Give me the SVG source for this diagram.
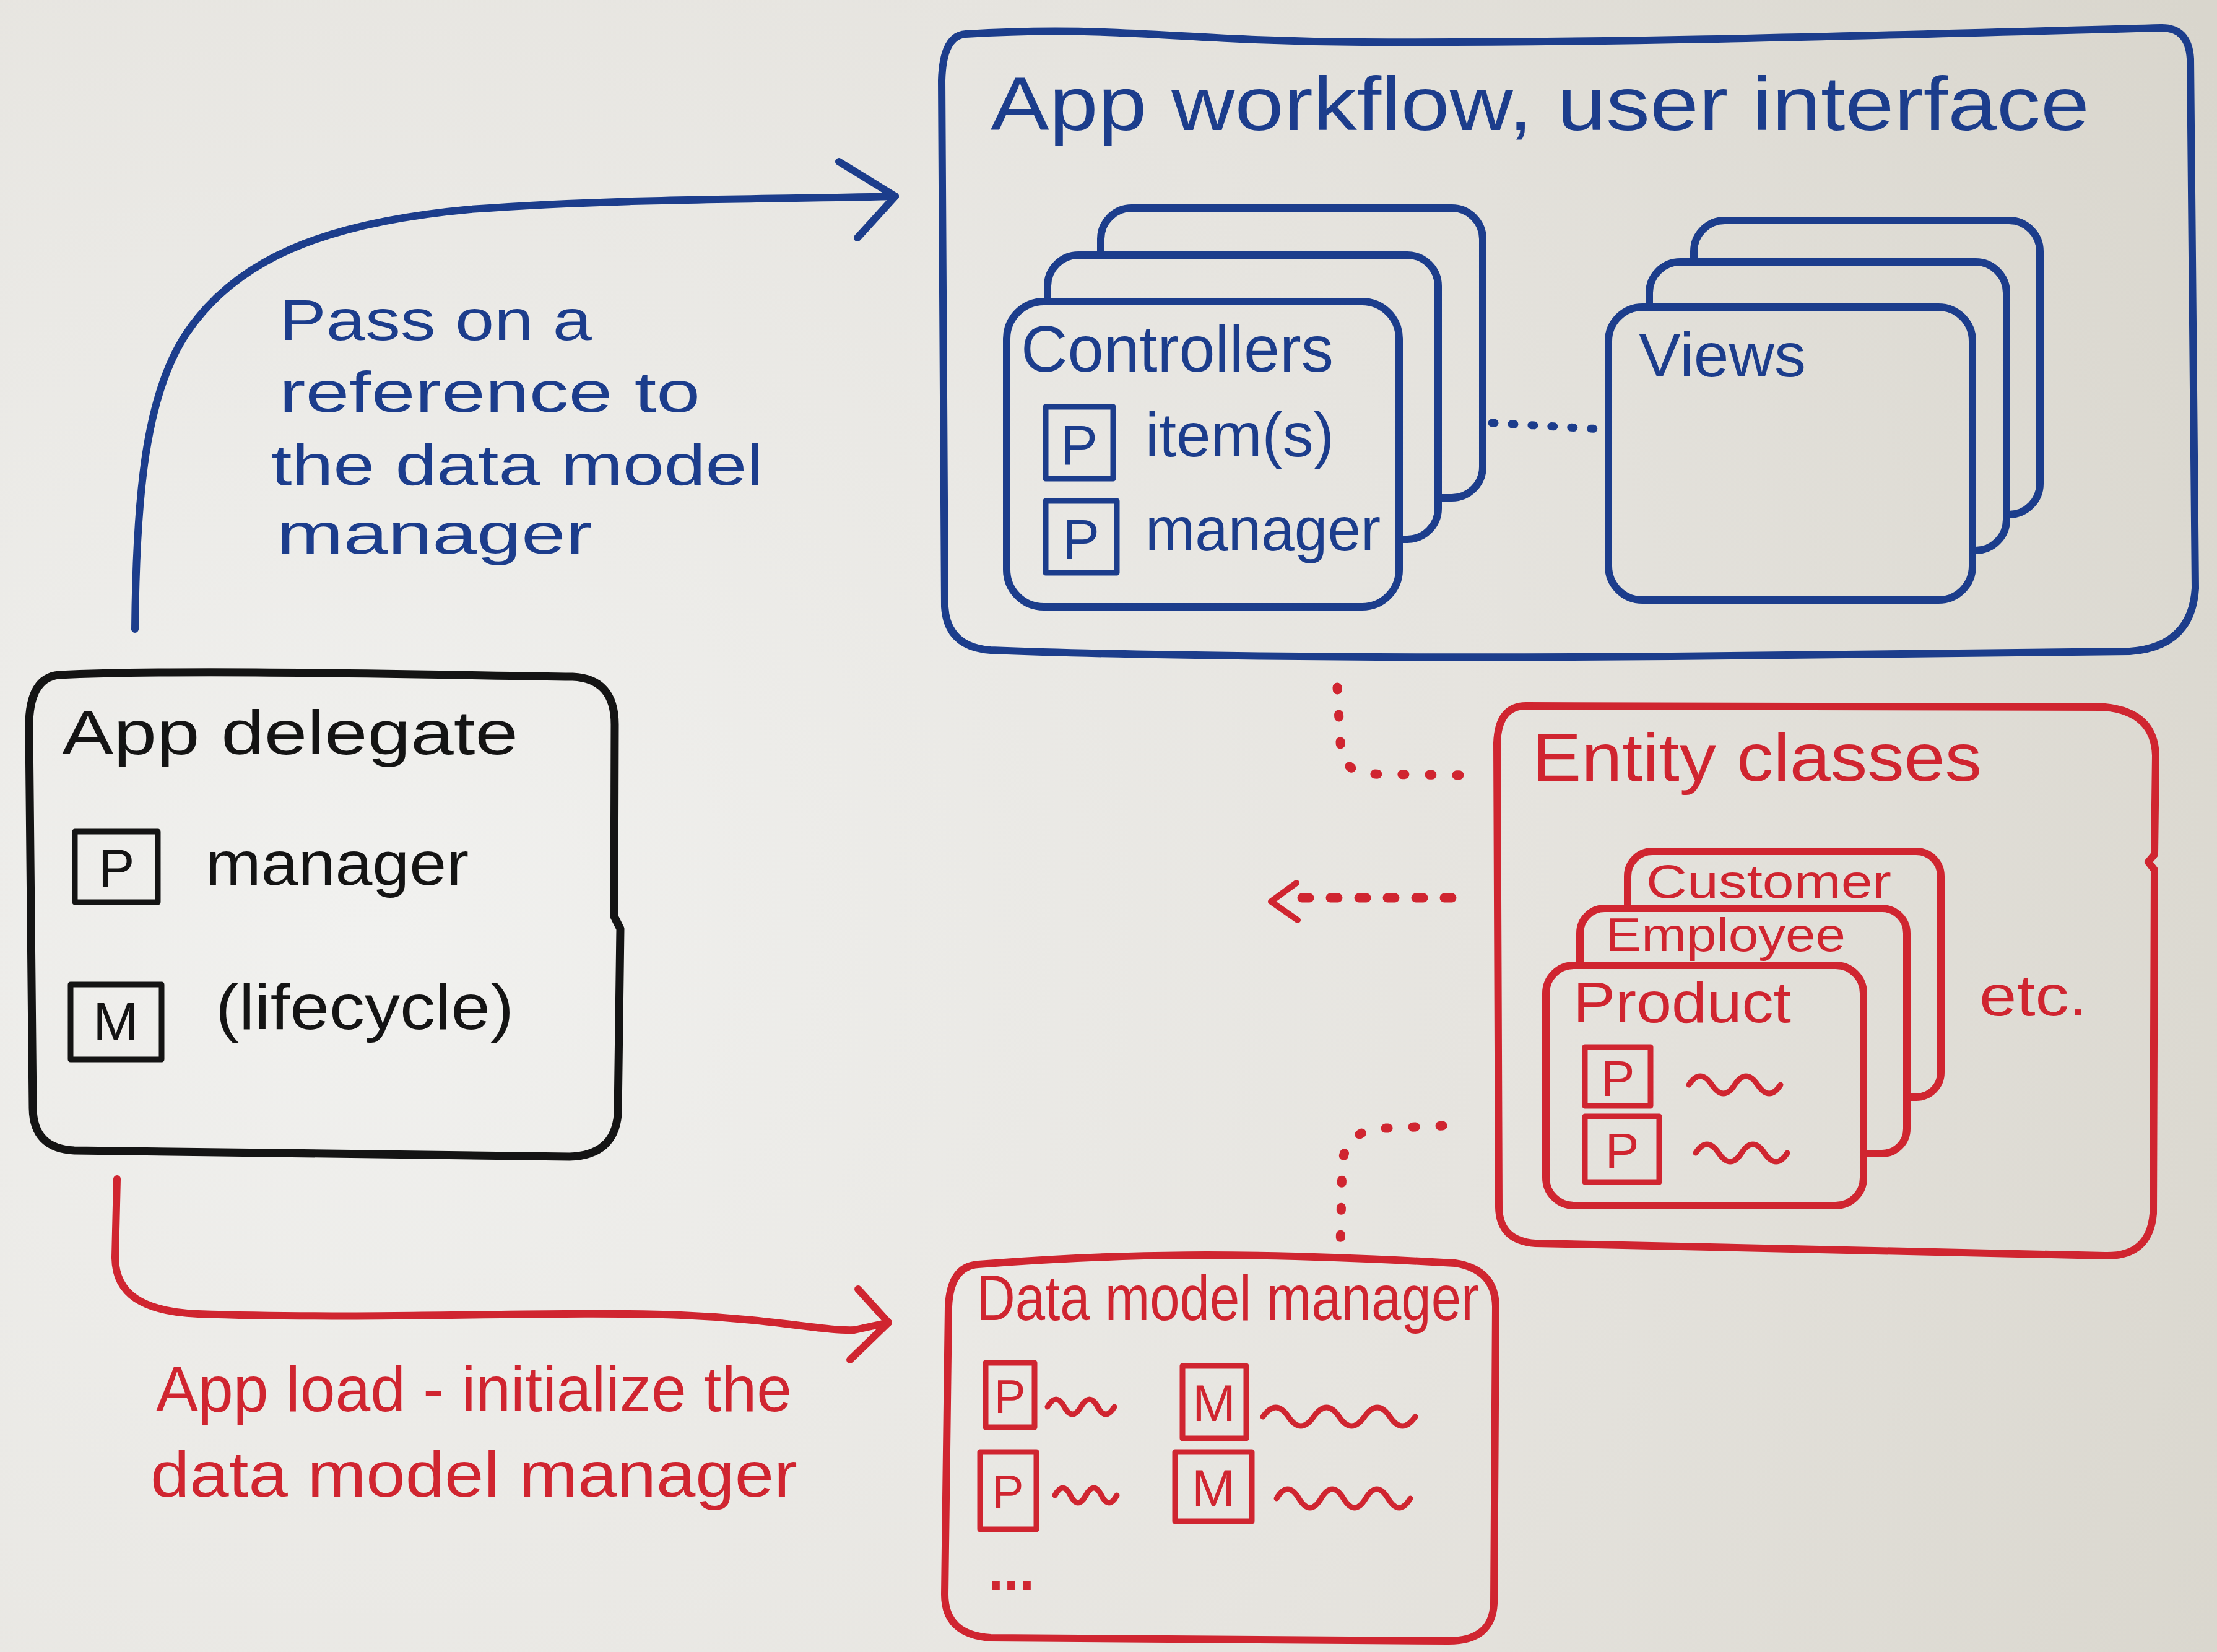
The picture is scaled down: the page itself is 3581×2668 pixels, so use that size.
<svg xmlns="http://www.w3.org/2000/svg" width="3581" height="2668" viewBox="0 0 3581 2668">
<defs>
<radialGradient id="bg" gradientUnits="userSpaceOnUse" cx="600" cy="1500" r="3300">
<stop offset="0" stop-color="#f1f1ef"/>
<stop offset="0.55" stop-color="#e6e4df"/>
<stop offset="1" stop-color="#d9d6cd"/>
</radialGradient>
<style>
.t{font-family:"Liberation Sans","DejaVu Sans",sans-serif;}
.blue{stroke:#1c3d8c;fill:none;stroke-width:12;stroke-linecap:round;stroke-linejoin:round;}
.red{stroke:#d02530;fill:none;stroke-width:12;stroke-linecap:round;stroke-linejoin:round;}
.black{stroke:#141414;fill:none;stroke-width:13;stroke-linecap:round;stroke-linejoin:round;}
.card{fill:url(#bg);}
.tb{fill:#1c3d8c;}
.tr{fill:#d02530;}
.tk{fill:#141414;}
.box{stroke-width:9;}
.sq{stroke-width:9;}
.dotr{stroke:#d02530;fill:none;stroke-width:15;stroke-linecap:round;stroke-dasharray:4 40;}
.dotb{stroke:#1c3d8c;fill:none;stroke-width:13;stroke-linecap:round;stroke-dasharray:4 28;}
</style>
</defs>
<rect x="0" y="0" width="3581" height="2668" fill="url(#bg)"/>

<g id="connectors">
<path class="blue" d="M 218 1016 C 220 800, 235 640, 300 540 C 380 420, 520 360, 760 338 C 1000 320, 1250 322, 1446 317"/>
<path class="blue" d="M 1355 261 L 1446 317 L 1385 384"/>
<path class="red" d="M 189 1904 L 186 2030 C 186 2090, 230 2118, 320 2122 C 600 2132, 900 2116, 1100 2124 C 1250 2130, 1330 2150, 1380 2148 L 1435 2136"/>
<path class="red" d="M 1386 2082 L 1435 2136 L 1373 2196"/>
<path class="dotb" d="M 2410 683 L 2585 693"/>
<path class="dotr" d="M 2160 1110 L 2166 1215 Q 2178 1250 2215 1250 L 2370 1252"/>
<path class="dotr" style="stroke-dasharray:12 34" d="M 2345 1450 L 2100 1450"/>
<path class="red" style="stroke-width:10" d="M 2094 1426 L 2053 1456 L 2096 1486"/>
<path class="dotr" d="M 2330 1818 L 2218 1823 Q 2172 1835 2168 1880 L 2165 2012"/>
</g>

<g id="app-workflow">
<path class="blue" d="M 1560 55 C 1800 40, 1900 66, 2200 68 C 2600 70, 3000 58, 3490 45 Q 3535 44 3538 95 L 3546 950 Q 3540 1045 3440 1052 L 2700 1060 C 2200 1064, 1800 1058, 1600 1050 Q 1530 1045 1526 980 L 1521 130 Q 1523 57 1560 55 Z"/>
<text class="t tb" x="1600" y="210" font-size="122" textLength="1775" lengthAdjust="spacingAndGlyphs">App workflow, user interface</text>
</g>

<g id="controllers">
<rect class="blue card" x="1778" y="336" width="617" height="468" rx="50"/>
<rect class="blue card" x="1692" y="412" width="631" height="459" rx="50"/>
<rect class="blue card" x="1626" y="487" width="634" height="493" rx="60"/>
<text class="t tb" x="1649" y="600" font-size="106" textLength="505" lengthAdjust="spacingAndGlyphs">Controllers</text>
<rect class="blue box" x="1689" y="657" width="109" height="116"/>
<text class="t tb" x="1743" y="750" font-size="90" text-anchor="middle">P</text>
<text class="t tb" x="1850" y="737" font-size="100" textLength="305" lengthAdjust="spacingAndGlyphs">item(s)</text>
<rect class="blue box" x="1689" y="809" width="115" height="116"/>
<text class="t tb" x="1746" y="902" font-size="90" text-anchor="middle">P</text>
<text class="t tb" x="1850" y="889" font-size="100" textLength="380" lengthAdjust="spacingAndGlyphs">manager</text>
</g>

<g id="views">
<rect class="blue card" x="2736" y="356" width="559" height="475" rx="50"/>
<rect class="blue card" x="2664" y="423" width="577" height="466" rx="50"/>
<rect class="blue card" x="2598" y="496" width="588" height="473" rx="55"/>
<text class="t tb" x="2647" y="608" font-size="100" textLength="270" lengthAdjust="spacingAndGlyphs">Views</text>
</g>

<g id="pass-label">
<text class="t tb" font-size="92">
<tspan x="451" y="549" textLength="505" lengthAdjust="spacingAndGlyphs">Pass on a</tspan>
<tspan x="451" y="665" textLength="680" lengthAdjust="spacingAndGlyphs">reference to</tspan>
<tspan x="438" y="783" textLength="795" lengthAdjust="spacingAndGlyphs">the data model</tspan>
<tspan x="447" y="894" textLength="510" lengthAdjust="spacingAndGlyphs">manager</tspan>
</text>
</g>

<g id="app-delegate">
<path class="black" d="M 95 1090 C 300 1080, 700 1090, 925 1093 Q 993 1096 993 1170 L 992 1480 L 1002 1500 L 998 1800 Q 992 1866 920 1868 L 120 1858 Q 54 1855 53 1790 L 47 1180 Q 45 1095 95 1090 Z"/>
<text class="t tk" x="100" y="1218" font-size="100" textLength="737" lengthAdjust="spacingAndGlyphs">App delegate</text>
<rect class="black box" x="121" y="1343" width="134" height="114"/>
<text class="t tk" x="188" y="1432" font-size="88" text-anchor="middle">P</text>
<text class="t tk" x="332" y="1429" font-size="100" textLength="425" lengthAdjust="spacingAndGlyphs">manager</text>
<rect class="black box" x="114" y="1590" width="147" height="121"/>
<text class="t tk" x="187" y="1680" font-size="88" text-anchor="middle">M</text>
<text class="t tk" x="348" y="1662" font-size="104" textLength="482" lengthAdjust="spacingAndGlyphs">(lifecycle)</text>
</g>

<g id="app-load-label">
<text class="t tr" font-size="104">
<tspan x="252" y="2279" textLength="1027" lengthAdjust="spacingAndGlyphs">App load - initialize the</tspan>
<tspan x="243" y="2417" textLength="1045" lengthAdjust="spacingAndGlyphs">data model manager</tspan>
</text>
</g>

<g id="entity-classes">
<path class="red" d="M 2465 1140 L 3400 1142 Q 3480 1150 3482 1220 L 3480 1380 L 3470 1392 L 3480 1405 L 3478 1960 Q 3472 2030 3400 2028 L 2480 2008 Q 2422 2004 2421 1950 L 2418 1200 Q 2420 1140 2465 1140 Z"/>
<text class="t tr" x="2475" y="1261" font-size="110" textLength="726" lengthAdjust="spacingAndGlyphs">Entity classes</text>
<rect class="red card" x="2629" y="1375" width="506" height="397" rx="40"/>
<text class="t tr" x="2659" y="1450" font-size="76" textLength="396" lengthAdjust="spacingAndGlyphs">Customer</text>
<rect class="red card" x="2552" y="1467" width="528" height="396" rx="40"/>
<text class="t tr" x="2593" y="1536" font-size="76" textLength="388" lengthAdjust="spacingAndGlyphs">Employee</text>
<rect class="red card" x="2497" y="1559" width="513" height="388" rx="45"/>
<text class="t tr" x="2541" y="1651" font-size="92" textLength="352" lengthAdjust="spacingAndGlyphs">Product</text>
<rect class="red box" x="2560" y="1691" width="106" height="95"/>
<text class="t tr" x="2613" y="1770" font-size="82" text-anchor="middle">P</text>
<path class="red sq" d="M 2728 1752 q 18 -28 37 0 t 37 0 t 37 0 t 37 0"/>
<rect class="red box" x="2560" y="1803" width="120" height="106"/>
<text class="t tr" x="2620" y="1887" font-size="82" text-anchor="middle">P</text>
<path class="red sq" d="M 2739 1862 q 18 -28 37 0 t 37 0 t 37 0 t 37 0"/>
<text class="t tr" x="3197" y="1640" font-size="92" textLength="175" lengthAdjust="spacingAndGlyphs">etc.</text>
</g>

<g id="data-model-manager">
<path class="red" d="M 1580 2042 C 1800 2025, 2000 2020, 2350 2040 Q 2415 2050 2416 2110 L 2413 2590 Q 2410 2650 2340 2650 L 1600 2645 Q 1526 2640 1526 2575 L 1532 2110 Q 1535 2045 1580 2042 Z"/>
<text class="t tr" x="1577" y="2132" font-size="104" textLength="812" lengthAdjust="spacingAndGlyphs">Data model manager</text>
<rect class="red box" x="1592" y="2201" width="79" height="104"/>
<text class="t tr" x="1631" y="2282" font-size="76" text-anchor="middle">P</text>
<path class="red sq" d="M 1692 2272 q 14 -24 27 0 t 27 0 t 27 0 t 27 0"/>
<rect class="red box" x="1910" y="2206" width="103" height="117"/>
<text class="t tr" x="1961" y="2295" font-size="84" text-anchor="middle">M</text>
<path class="red sq" d="M 2040 2288 q 21 -30 41 0 t 41 0 t 41 0 t 41 0 t 41 0 t 41 0"/>
<rect class="red box" x="1583" y="2345" width="91" height="125"/>
<text class="t tr" x="1628" y="2436" font-size="76" text-anchor="middle">P</text>
<path class="red sq" d="M 1704 2415 q 13 -24 25 0 t 25 0 t 25 0 t 25 0"/>
<rect class="red box" x="1898" y="2345" width="124" height="112"/>
<text class="t tr" x="1960" y="2432" font-size="84" text-anchor="middle">M</text>
<path class="red sq" d="M 2062 2420 q 18 -30 36 0 t 36 0 t 36 0 t 36 0 t 36 0 t 36 0"/>
<text class="t tr" x="1596" y="2568" font-size="100" font-weight="bold" textLength="75" lengthAdjust="spacingAndGlyphs">...</text>
</g>
</svg>
